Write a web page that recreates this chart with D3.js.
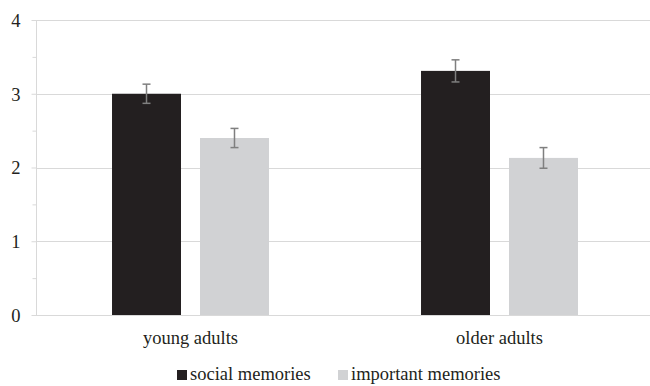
<!DOCTYPE html>
<html>
<head>
<meta charset="utf-8">
<script src="https://cdn.jsdelivr.net/npm/d3@7/dist/d3.min.js"></script>
<style>
  html, body { margin: 0; padding: 0; background: #fff; }
  svg { display: block; }
</style>
</head>
<body>
<svg id="chart" width="650" height="386"></svg>
<script>
// Mean ratings per age group, with error bar half-widths
const groups = ["young adults", "older adults"];
const seriesNames = ["social memories", "important memories"];
const socialMeans = [3.0, 3.31];
const importantMeans = [2.4, 2.13];
const socialErrors = [0.13, 0.15];
const importantErrors = [0.13, 0.14];
const yTicks = [0, 1, 2, 3, 4];
const yMinorTicks = [0.5, 1.5, 2.5, 3.5];
const colors = ["#231f20", "#d1d2d4"];

const FONT = '"Liberation Serif", "Times New Roman", serif';
const FONT_SIZE = "18.5px";
const TEXT_COLOR = "#231f20";

const rows = groups.map((g, i) => ({
  group: g,
  values: [
    { series: seriesNames[0], value: socialMeans[i], err: socialErrors[i] },
    { series: seriesNames[1], value: importantMeans[i], err: importantErrors[i] }
  ]
}));

const svg = d3.select("#chart");
const plotLeft = 36, plotRight = 654, plotTop = 20, plotBottom = 315;

const y = d3.scaleLinear().domain([0, 4]).range([plotBottom, plotTop]);
const x0 = d3.scaleBand().domain(groups).range([plotLeft, plotRight]).padding(0);
const x1 = d3.scaleBand().domain(seriesNames).range([0, x0.bandwidth()])
  .paddingInner(0.216).paddingOuter(0.864);
const color = d3.scaleOrdinal().domain(seriesNames).range(colors);

// horizontal gridlines
svg.append("g")
  .selectAll("line")
  .data(yTicks)
  .join("line")
  .attr("x1", plotLeft).attr("x2", 650)
  .attr("y1", d => Math.round(y(d)) + 0.5).attr("y2", d => Math.round(y(d)) + 0.5)
  .attr("stroke", "#d9d9d9").attr("stroke-width", 1);

// y axis with major and minor ticks
const yAxis = svg.append("g")
  .attr("transform", `translate(${plotLeft + 0.5},0)`)
  .call(d3.axisLeft(y).tickValues(yTicks).tickSize(5).tickPadding(11).tickFormat(d3.format("d")));
yAxis.select(".domain").attr("stroke", "#d9d9d9").attr("d", `M0,${plotTop}V${plotBottom}`);
yAxis.selectAll(".tick line").attr("stroke", "#d9d9d9");
yAxis.selectAll(".tick text")
  .style("font-family", FONT)
  .style("font-size", FONT_SIZE)
  .attr("fill", TEXT_COLOR).attr("dy", "0.34em");

svg.append("g")
  .attr("transform", `translate(${plotLeft + 0.5},0)`)
  .call(d3.axisLeft(y).tickValues(yMinorTicks).tickSize(4).tickFormat(""))
  .call(g => g.select(".domain").remove())
  .selectAll(".tick line").attr("stroke", "#d9d9d9");

// bars
const groupG = svg.append("g")
  .selectAll("g")
  .data(rows)
  .join("g")
  .attr("transform", d => `translate(${x0(d.group)},0)`);

groupG.selectAll("rect")
  .data(d => d.values)
  .join("rect")
  .attr("x", d => x1(d.series))
  .attr("width", x1.bandwidth())
  .attr("y", d => y(d.value))
  .attr("height", d => y(0) - y(d.value))
  .attr("fill", d => color(d.series));

// error bars
const eb = groupG.selectAll("g.err")
  .data(d => d.values)
  .join("g")
  .attr("class", "err")
  .attr("stroke", "#7f7f7f")
  .attr("stroke-width", 1.5);
eb.append("line")
  .attr("x1", d => x1(d.series) + x1.bandwidth() / 2)
  .attr("x2", d => x1(d.series) + x1.bandwidth() / 2)
  .attr("y1", d => y(d.value + d.err))
  .attr("y2", d => y(d.value - d.err));
[1, -1].forEach(s => {
  eb.append("line")
    .attr("x1", d => x1(d.series) + x1.bandwidth() / 2 - 4)
    .attr("x2", d => x1(d.series) + x1.bandwidth() / 2 + 4)
    .attr("y1", d => y(d.value + s * d.err))
    .attr("y2", d => y(d.value + s * d.err));
});

// category labels
svg.append("g")
  .selectAll("text")
  .data(groups)
  .join("text")
  .attr("x", d => x0(d) + x0.bandwidth() / 2)
  .attr("y", 344)
  .attr("text-anchor", "middle")
  .style("font-family", FONT)
  .style("font-size", FONT_SIZE)
  .attr("fill", TEXT_COLOR)
  .text(d => d);

// legend
const legendPos = [177, 338];
const legend = svg.append("g")
  .selectAll("g")
  .data(seriesNames)
  .join("g")
  .attr("transform", (d, i) => `translate(${legendPos[i]},0)`);
legend.append("rect")
  .attr("x", 0).attr("y", 370).attr("width", 10).attr("height", 10)
  .attr("fill", d => color(d));
legend.append("text")
  .attr("x", 13).attr("y", 379.5)
  .style("font-family", FONT)
  .style("font-size", FONT_SIZE)
  .attr("fill", TEXT_COLOR)
  .text(d => d);
</script>
</body>
</html>
